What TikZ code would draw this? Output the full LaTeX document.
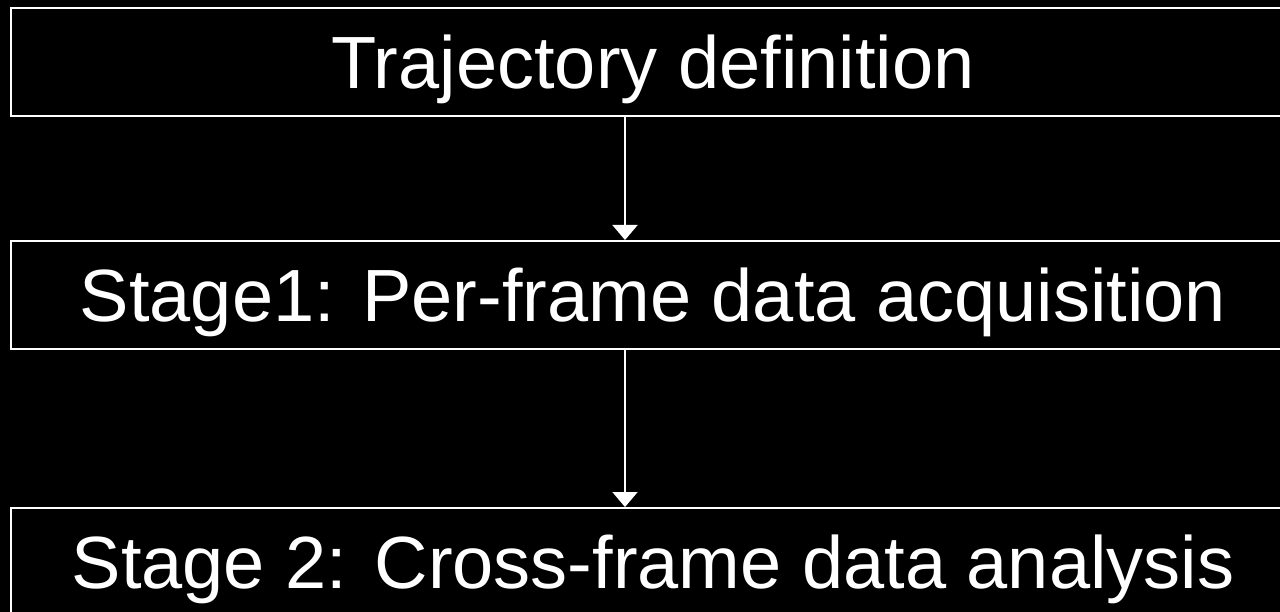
\documentclass[tikz,border=0pt]{standalone}
\usepackage{fontspec}
\setmainfont{Liberation Sans}
\usetikzlibrary{arrows.meta}
\tikzset{
  stagebox/.style={draw=white, line width=2pt, fill=black, text=white,
    minimum width=1284pt, minimum height=108pt, inner sep=0pt,
    font=\fontsize{74}{88}\selectfont, text height=53pt, text depth=0pt},
  flow/.style={draw=white, line width=2pt,
    -{Triangle[width=25pt,length=15pt]}}
}
\begin{document}
\begin{tikzpicture}[x=1pt,y=-1pt]
  \fill[black] (0,0) rectangle (1280,612);
  \useasboundingbox (0,0) rectangle (1280,612);
  \clip (0,0) rectangle (1280,612);
  \node[stagebox] (traj) at (653,62.5) {Trajectory definition};
  \node[stagebox] (s1) at (653,295) {Stage1: Per-frame data acquisition};
  \node[stagebox] (s2) at (653,562) {Stage 2: Cross-frame data analysis};
  \coordinate (ax) at (625,0);
  \draw[flow] (traj.south -| ax) -- (s1.north -| ax);
  \draw[flow] (s1.south -| ax) -- (s2.north -| ax);
\end{tikzpicture}
\end{document}
